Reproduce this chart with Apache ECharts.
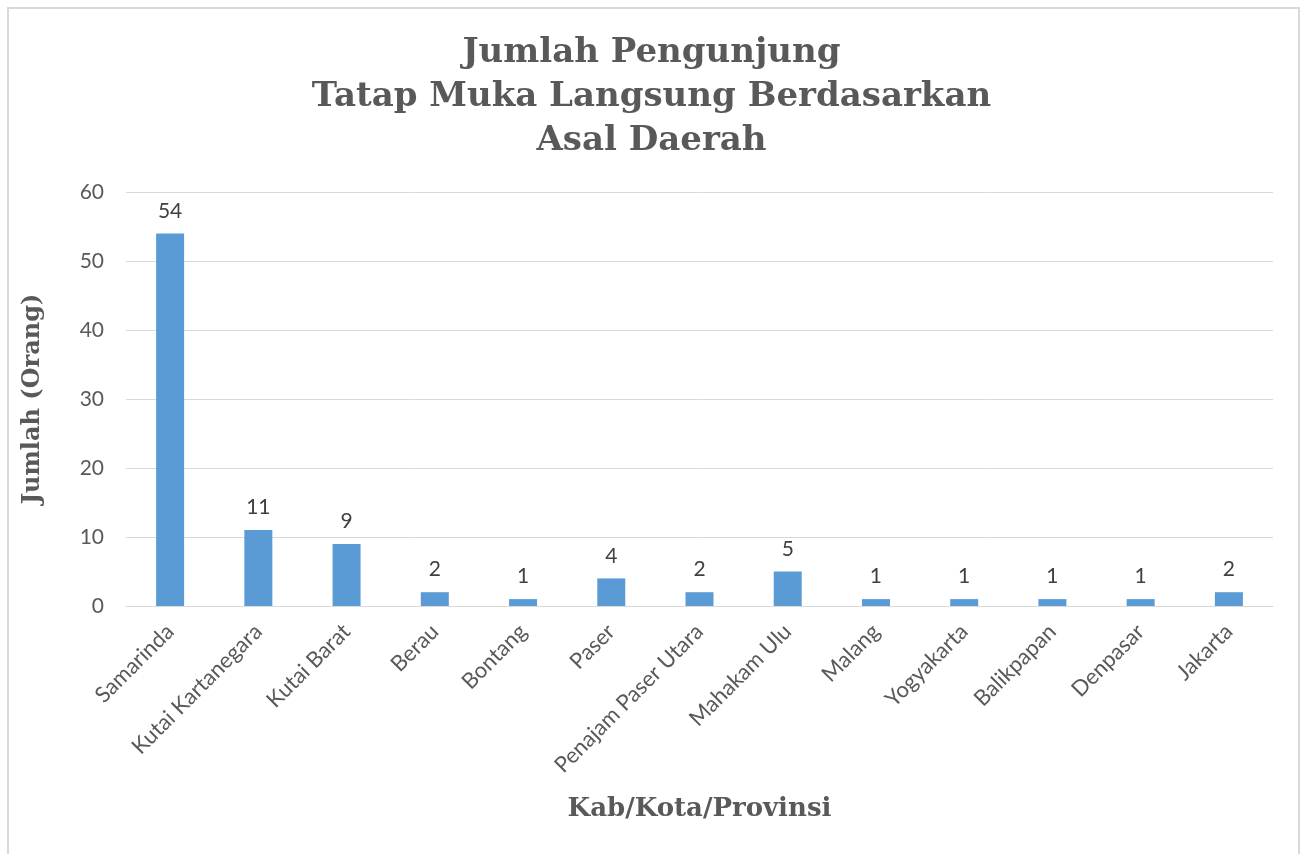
<!DOCTYPE html>
<html>
<head>
<meta charset="utf-8">
<script src="https://cdn.jsdelivr.net/npm/echarts@6/dist/echarts.min.js"></script>
<style>
  html, body { margin: 0; padding: 0; background: #fff; }
  #frame { position: absolute; left: 7px; top: 7px; width: 1293px; height: 860px; border: 2px solid #d9d9d9; box-sizing: border-box; }
  #chart { position: absolute; left: 0; top: 0; width: 1303px; height: 854px; }
</style>
</head>
<body>
<div id="frame"></div>
<div id="chart"></div>
<script>
// data
const categories = ['Samarinda', 'Kutai Kartanegara', 'Kutai Barat', 'Berau', 'Bontang', 'Paser',
    'Penajam Paser Utara', 'Mahakam Ulu', 'Malang', 'Yogyakarta', 'Balikpapan', 'Denpasar', 'Jakarta'];
const visitors = [54, 11, 9, 2, 1, 4, 2, 5, 1, 1, 1, 1, 2];
const yTicks = [0, 10, 20, 30, 40, 50, 60];

const serif = '"DejaVu Serif", "Liberation Serif", serif';
const sans = 'Lato, "Open Sans", sans-serif';

var option = {
    backgroundColor: 'transparent',
    animation: false,
    title: {
        text: 'Jumlah Pengunjung\nTatap Muka Langsung Berdasarkan\nAsal Daerah',
        left: 'center',
        top: 26,
        textStyle: {
            fontFamily: serif,
            fontWeight: 'bold',
            fontSize: 34,
            lineHeight: 44,
            color: '#595959'
        }
    },
    grid: { left: 126, right: 30, top: 192, bottom: 248 },
    xAxis: {
        type: 'category',
        data: categories,
        name: 'Kab/Kota/Provinsi',
        nameLocation: 'middle',
        nameGap: 190,
        nameTextStyle: { fontFamily: serif, fontWeight: 'bold', fontSize: 26, color: '#595959' },
        axisLine: { lineStyle: { color: '#d9d9d9', width: 1 } },
        axisTick: { show: false },
        axisLabel: {
            rotate: 45,
            interval: 0,
            margin: 22,
            fontFamily: sans,
            fontSize: 22,
            color: '#595959'
        }
    },
    yAxis: {
        type: 'value',
        min: yTicks[0],
        max: yTicks[yTicks.length - 1],
        interval: 10,
        name: 'Jumlah (Orang)',
        nameLocation: 'middle',
        nameGap: 81,
        nameTextStyle: { fontFamily: serif, fontWeight: 'bold', fontSize: 24, color: '#595959' },
        axisLine: { show: false },
        axisTick: { show: false },
        axisLabel: { fontFamily: sans, fontSize: 21, color: '#595959', margin: 22 },
        splitLine: { lineStyle: { color: '#d9d9d9', width: 1 } }
    },
    series: [{
        type: 'bar',
        data: visitors,
        barWidth: 28,
        itemStyle: { color: '#5b9bd5' },
        label: {
            show: true,
            position: 'top',
            distance: 12,
            fontFamily: sans,
            fontSize: 21,
            color: '#404040'
        }
    }]
};

var myChart = echarts.init(document.getElementById('chart'));
myChart.setOption(option);
</script>
</body>
</html>
